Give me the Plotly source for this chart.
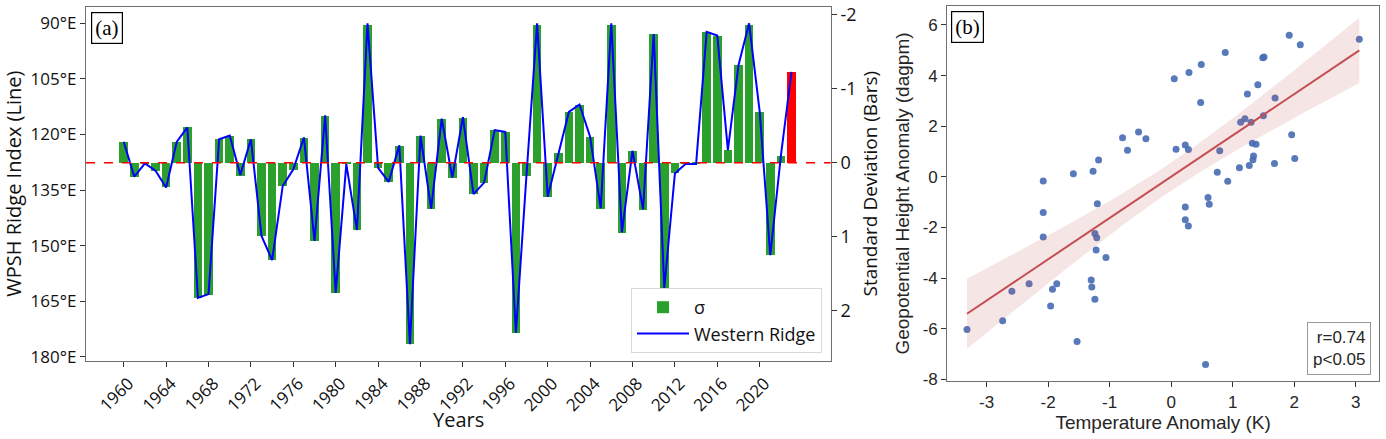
import numpy as np
import plotly.graph_objects as go

# ---------------- data ----------------
years = list(range(1960, 2024))
ridge_index = [122.0, 131.4, 127.8, 129.8, 134.3, 122.0, 118.1, 164.1, 163.1, 121.3,
               120.3, 130.9, 121.3, 147.4, 153.9, 133.9, 129.4, 120.8, 148.7, 114.8,
               162.7, 128.0, 145.8, 90.0, 129.0, 132.8, 122.9, 176.6, 120.3, 140.0,
               115.7, 131.6, 115.3, 136.1, 133.0, 118.8, 119.3, 173.5, 130.9, 90.0,
               136.8, 125.1, 113.9, 111.9, 120.6, 139.9, 90.0, 146.4, 124.4, 140.2,
               92.9, 161.5, 130.5, 128.0, 128.0, 92.3, 93.3, 124.2, 101.3, 90.0,
               113.8, 152.6, 125.8, 103.1]
sigma = [-0.28, 0.19, 0.02, 0.11, 0.33, -0.28, -0.48, 1.82, 1.78, -0.32,
         -0.37, 0.17, -0.32, 0.99, 1.31, 0.31, 0.09, -0.34, 1.05, -0.64,
         1.76, 0.02, 0.91, -1.87, 0.07, 0.26, -0.23, 2.45, -0.37, 0.62,
         -0.59, 0.20, -0.61, 0.42, 0.27, -0.44, -0.42, 2.30, 0.17, -1.87,
         0.46, -0.13, -0.69, -0.79, -0.35, 0.62, -1.87, 0.94, -0.16, 0.63,
         -1.74, 1.79, 0.14, 0.02, 0.02, -1.77, -1.72, -0.17, -1.32, -1.87,
         -0.69, 1.25, -0.09, -1.23]
ridge_ticks = [90, 105, 120, 135, 150, 165, 180]
ridge_tick_labels = ["90°E", "105°E", "120°E", "135°E", "150°E", "165°E", "180°E"]
sigma_ticks = [-2, -1, 0, 1, 2]
sigma_tick_labels = ["-2", "-1", "0", "1", "2"]
year_ticks = list(range(1960, 2021, 4))

temp_anom = [-3.32, -2.74, -2.59, -2.31, -2.08, -2.08, -2.08, -1.96, -1.93, -1.86,
             -1.59, -1.53, -1.30, -1.29, -1.27, -1.24, -1.21, -1.22, -1.24, -1.20,
             -1.18, -1.06, -0.79, -0.71, -0.53, -0.41, 0.05, 0.08, 0.23, 0.28,
             0.29, 0.23, 0.23, 0.28, 0.48, 0.49, 0.56, 0.60, 0.62, 0.75,
             0.79, 0.88, 0.92, 1.11, 1.13, 1.20, 1.24, 1.27, 1.30, 1.32,
             1.33, 1.34, 1.38, 1.41, 1.49, 1.51, 1.50, 1.68, 1.69, 1.92,
             1.96, 2.01, 2.10, 3.06]
gph_anom = [-6.03, -5.69, -4.52, -4.23, -0.17, -1.41, -2.38, -5.11, -4.44, -4.23,
            0.12, -6.51, -4.08, -4.36, 0.22, -2.24, -2.41, -2.89, -4.84, -1.07,
            0.66, -3.19, 1.54, 1.05, 1.77, 1.50, 3.87, 1.09, 1.26, 1.08,
            4.12, -1.19, -1.70, -1.94, 2.94, 4.44, -7.42, -0.82, -1.08, 0.18,
            1.03, 4.91, -0.18, 0.36, 2.16, 2.29, 3.27, 0.45, 2.16, 1.33,
            0.67, 0.82, 1.29, 3.64, 4.70, 4.73, 2.41, 0.53, 3.11, 5.59,
            1.66, 0.72, 5.22, 5.44]
temp_ticks = [-3, -2, -1, 0, 1, 2, 3]
temp_tick_labels = ["-3", "-2", "-1", "0", "1", "2", "3"]
gph_ticks = [-8, -6, -4, -2, 0, 2, 4, 6]
gph_tick_labels = ["-8", "-6", "-4", "-2", "0", "2", "4", "6"]
stats_text = "r=0.74<br>p&lt;0.05"
years_title = "Years"

# ---------------- regression (b) ----------------
tx = np.array(temp_anom)
gy = np.array(gph_anom)
slope, intercept = np.polyfit(tx, gy, 1)
n = len(tx)
resid = gy - (slope * tx + intercept)
s_err = np.sqrt(np.sum(resid ** 2) / (n - 2))
sxx = np.sum((tx - tx.mean()) ** 2)
xs = np.linspace(tx.min(), tx.max(), 120)
yhat = slope * xs + intercept
half = 2.0 * s_err * np.sqrt(1.0 / n + (xs - tx.mean()) ** 2 / sxx)

W, H = 1386, 439
FA = "Open Sans"
FB = "Liberation Sans"

fig = go.Figure()

# panel (a): bars on sigma axis (y), line on ridge axis (y2, overlay)
fig.add_trace(go.Bar(x=years[:-1], y=sigma[:-1], width=0.8, marker_color="#2ca02c",
                     marker_line_width=0, name="σ", legendrank=1, xaxis="x", yaxis="y"))
fig.add_trace(go.Bar(x=years[-1:], y=sigma[-1:], width=0.8, marker_color="#ff0000",
                     marker_line_width=0, showlegend=False, xaxis="x", yaxis="y"))
fig.add_trace(go.Scatter(x=years, y=ridge_index, mode="lines", name="Western Ridge",
                         legendrank=2, line=dict(color="#0000ff", width=2),
                         xaxis="x", yaxis="y2"))

# panel (b)
fig.add_trace(go.Scatter(x=temp_anom, y=gph_anom, mode="markers", showlegend=False,
                         marker=dict(size=7, color="rgba(70,108,178,0.9)", line=dict(width=0)),
                         xaxis="x2", yaxis="y3"))
fig.add_trace(go.Scatter(x=xs, y=yhat - half, mode="lines", line=dict(width=0),
                         showlegend=False, hoverinfo="skip", xaxis="x2", yaxis="y3"))
fig.add_trace(go.Scatter(x=xs, y=yhat + half, mode="lines", line=dict(width=0),
                         fill="tonexty", fillcolor="rgba(196,78,82,0.15)",
                         showlegend=False, hoverinfo="skip", xaxis="x2", yaxis="y3"))
fig.add_trace(go.Scatter(x=xs, y=yhat, mode="lines", line=dict(color="#c44e52", width=2),
                         showlegend=False, xaxis="x2", yaxis="y3"))

axcol = "#707070"
fig.update_layout(
    width=W, height=H, autosize=False,
    margin=dict(l=0, r=0, t=0, b=0),
    paper_bgcolor="white", plot_bgcolor="white",
    bargap=0,
    xaxis=dict(domain=[86 / W, 830.7 / W], anchor="y", range=[1956.44, 2026.7],
               tickvals=year_ticks, tickangle=-45, ticks="outside", ticklen=5,
               ticklabelshift=5, ticklabelstandoff=0,
               tickcolor="#333", showline=True, linecolor=axcol, linewidth=1.3, mirror=True,
               showgrid=False, zeroline=False, automargin=False,
               tickfont=dict(family=FA, size=17, color="#111")),
    yaxis=dict(domain=[1 - 360.7 / H, 1 - 6.7 / H], anchor="x", side="right",
               range=[2.676, -2.108], tickvals=sigma_ticks, ticktext=sigma_tick_labels,
               ticks="outside", ticklen=5, tickcolor="#333", showline=True, linecolor=axcol,
               linewidth=1.3, mirror=True, showgrid=False, zeroline=False, automargin=False,
               tickfont=dict(family=FA, size=18, color="#111"),
               title=dict(text="Standard Deviation (Bars)", font=dict(family=FA, size=19, color="#111"),
                          standoff=8)),
    yaxis2=dict(overlaying="y", anchor="x", side="left", range=[181.07, 85.5],
                tickvals=ridge_ticks, ticktext=ridge_tick_labels, ticks="outside", ticklen=5,
                tickcolor="#333", showline=True, linecolor=axcol, linewidth=1.3,
                showgrid=False, zeroline=False, automargin=False,
                tickfont=dict(family=FA, size=17, color="#111"),
                title=dict(text="WPSH Ridge Index (Line)", font=dict(family=FA, size=20, color="#111"),
                           standoff=8)),
    xaxis2=dict(domain=[947.3 / W, 1379 / W], anchor="y3", range=[-3.64, 3.38],
                tickvals=temp_ticks, ticktext=temp_tick_labels, ticks="outside", ticklen=5,
                tickcolor="#333", showline=True, linecolor=axcol, linewidth=1.3, mirror=True,
                showgrid=False, zeroline=False, automargin=False,
                tickfont=dict(family=FB, size=17, color="#262626"),
                title=dict(text="Temperature Anomaly (K)", font=dict(family=FB, size=19, color="#262626"),
                           standoff=4)),
    yaxis3=dict(domain=[1 - 381 / H, 1 - 6 / H], anchor="x2", range=[-8.07, 6.75],
                tickvals=gph_ticks, ticktext=gph_tick_labels, ticks="outside", ticklen=5,
                tickcolor="#333", showline=True, linecolor=axcol, linewidth=1.3, mirror=True,
                showgrid=False, zeroline=False, automargin=False,
                tickfont=dict(family=FB, size=17, color="#262626"),
                title=dict(text="Geopotential Height Anomaly (dagpm)",
                           font=dict(family=FB, size=19, color="#262626"), standoff=7)),
    legend=dict(x=822 / W, y=1 - 288 / H, xanchor="right", yanchor="top",
                bgcolor="white", bordercolor="#d8d8d8", borderwidth=1,
                font=dict(family=FA, size=18, color="#111"), tracegroupgap=2,
                itemwidth=52, traceorder="normal"),
    shapes=[dict(type="line", xref="x domain", yref="y", x0=0, x1=1, y0=0, y1=0,
                 line=dict(color="red", width=1.5, dash="dash"), layer="above")],
    annotations=[
        dict(text=years_title, xref="x domain", yref="paper", x=0.5, y=1 - 419 / H,
             xanchor="center", yanchor="middle", showarrow=False,
             font=dict(family=FA, size=20, color="#111")),
        dict(text="(a)", xref="paper", yref="paper", x=107 / W, y=1 - 28 / H,
             xanchor="center", yanchor="middle",
             showarrow=False, font=dict(family="Liberation Serif", size=21, color="black"),
             bordercolor="black", borderwidth=1.2, borderpad=3, bgcolor="white"),
        dict(text="(b)", xref="paper", yref="paper", x=967.5 / W, y=1 - 26.7 / H,
             xanchor="center", yanchor="middle",
             showarrow=False, font=dict(family="Liberation Serif", size=21, color="black"),
             bordercolor="black", borderwidth=1.2, borderpad=3, bgcolor="white"),
        dict(text=stats_text, xref="paper", yref="paper", x=1339 / W, y=1 - 348.5 / H,
             xanchor="center", yanchor="middle",
             showarrow=False, align="right", font=dict(family=FB, size=17, color="#262626"),
             bordercolor="#999", borderwidth=1, borderpad=5, bgcolor="white"),
    ],
)

fig.write_html("out.html", config={"displayModeBar": False},
               post_script="document.body.style.margin='0px';document.body.style.padding='0px';"
                           "document.body.style.overflow='hidden';")
